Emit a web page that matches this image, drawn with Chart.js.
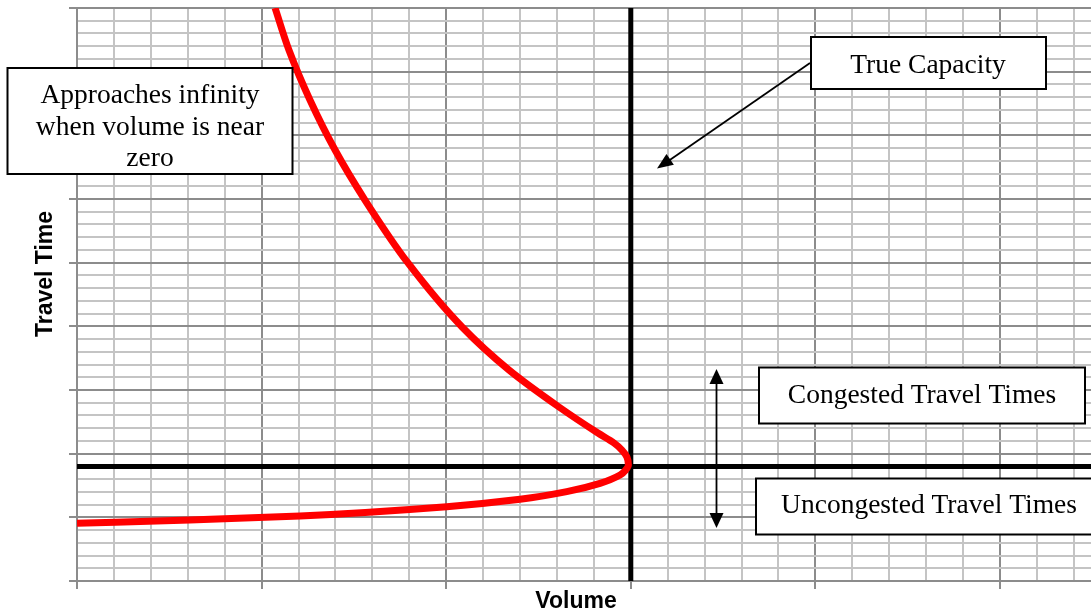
<!DOCTYPE html>
<html>
<head>
<meta charset="utf-8">
<script src="https://cdn.jsdelivr.net/npm/chart.js@4"></script>
<style>
  html, body { margin: 0; padding: 0; background: #fff; }
  #wrap { width: 1091px; height: 613px; position: relative; }
</style>
</head>
<body>
<div id="wrap"><canvas id="vdfChart"></canvas></div>
<script>
// travel time curve: top of the plot, down to the capacity tip, then the lower branch
// (travel time falls all the way along, so volume is a function of travel time)
const curveX = [1.073, 1.148, 1.262, 1.398, 1.560, 1.793, 2.086, 2.340, 2.611, 2.822, 2.909, 2.952, 2.979, 2.987, 2.972, 2.942, 2.833, 2.653, 2.400, 2.003, 1.208, 0.612, 0];
const curveY = [9.0, 8.34, 7.555, 6.769, 5.984, 4.995, 3.989, 3.314, 2.733, 2.324, 2.167, 2.057, 1.948, 1.822, 1.743, 1.665, 1.534, 1.403, 1.283, 1.167, 1.021, 0.958, 0.906];

const capacityX = 3;      // true capacity (vertical line)
const splitY = 1.8;       // congested / uncongested split (horizontal line)
const xMin = 0, xMax = 5.493;
const yMin = 0, yMax = 9;

const isMajor = v => Math.abs(v - Math.round(v)) < 1e-6;
const gridColor = c => (c.tick && isMajor(c.tick.value)) ? '#8c8c8c' : '#c4c4c4';
const tickColor = c => (c.tick && isMajor(c.tick.value)) ? '#8c8c8c' : 'rgba(0,0,0,0)';

function arrowHead(c, x1, y1, x2, y2, len, half) {
  const a = Math.atan2(y2 - y1, x2 - x1);
  c.beginPath();
  c.moveTo(x2, y2);
  c.lineTo(x2 - len * Math.cos(a) + half * Math.sin(a), y2 - len * Math.sin(a) - half * Math.cos(a));
  c.lineTo(x2 - len * Math.cos(a) - half * Math.sin(a), y2 - len * Math.sin(a) + half * Math.cos(a));
  c.closePath();
  c.fill();
}

const notes = {
  id: 'notes',
  afterDatasetsDraw(chart) {
    const c = chart.ctx;
    c.save();
    c.fillStyle = '#000';
    c.strokeStyle = '#000';

    // axis titles
    c.font = 'bold 23px "Liberation Sans", Arial, sans-serif';
    c.textAlign = 'center';
    c.textBaseline = 'alphabetic';
    c.fillText('Volume', 576, 608);
    c.save();
    c.translate(52, 274);
    c.rotate(-Math.PI / 2);
    c.fillText('Travel Time', 0, 0);
    c.restore();

    // arrows
    c.lineWidth = 1.8;
    c.beginPath();
    c.moveTo(810, 63);
    c.lineTo(664, 164);
    c.stroke();
    arrowHead(c, 810, 63, 657, 168.5, 16, 6.5);

    c.beginPath();
    c.moveTo(716.5, 380);
    c.lineTo(716.5, 517);
    c.stroke();
    arrowHead(c, 716.5, 420, 716.5, 369, 15, 7);
    arrowHead(c, 716.5, 480, 716.5, 528, 15, 7);

    // text boxes
    const boxes = [
      { x: 7.5, y: 68, w: 285, h: 106, cx: 150, lines: ['Approaches infinity', 'when volume is near', 'zero'], base: [103, 135, 166] },
      { x: 811, y: 37, w: 235, h: 52, cx: 928, lines: ['True Capacity'], base: [73] },
      { x: 759, y: 367.5, w: 326, h: 56, cx: 922, lines: ['Congested Travel Times'], base: [403] },
      { x: 756, y: 478.5, w: 345, h: 56, cx: 929, lines: ['Uncongested Travel Times'], base: [513] }
    ];
    c.font = '27.5px "Liberation Serif", "Times New Roman", serif';
    c.lineWidth = 2;
    boxes.forEach(b => {
      c.fillStyle = '#fff';
      c.fillRect(b.x, b.y, b.w, b.h);
      c.strokeRect(b.x, b.y, b.w, b.h);
      c.fillStyle = '#000';
      b.lines.forEach((t, i) => c.fillText(t, b.cx, b.base[i]));
    });
    c.restore();
  }
};

new Chart(document.getElementById('vdfChart'), {
  type: 'line',
  data: {
    datasets: [
      {
        label: 'Travel time',
        data: curveX.map((x, i) => ({ x: x, y: curveY[i] })),
        borderColor: '#ff0000',
        borderWidth: 7,
        pointRadius: 0,
        cubicInterpolationMode: 'monotone',
        clip: 0
      },
      {
        label: 'True capacity',
        data: [{ x: capacityX, y: yMin }, { x: capacityX, y: yMax }],
        borderColor: '#000',
        borderWidth: 5,
        borderCapStyle: 'round',
        pointRadius: 0
      },
      {
        label: 'Split',
        data: [{ x: xMin, y: splitY }, { x: xMax, y: splitY }],
        borderColor: '#000',
        borderWidth: 5,
        pointRadius: 0
      }
    ]
  },
  options: {
    indexAxis: 'y',
    responsive: true,
    maintainAspectRatio: false,
    animation: false,
    layout: { padding: { top: 8, right: 0, bottom: 0, left: 0 } },
    plugins: {
      legend: { display: false },
      tooltip: { enabled: false }
    },
    scales: {
      x: {
        type: 'linear',
        min: xMin,
        max: xMax,
        ticks: { display: false, stepSize: 0.2, includeBounds: false },
        grid: { color: gridColor, tickColor: tickColor, lineWidth: 2, tickLength: 8 },
        border: { color: '#8c8c8c', width: 2 },
        afterFit: s => { s.height = 32; }
      },
      y: {
        type: 'linear',
        min: yMin,
        max: yMax,
        ticks: { display: false, stepSize: 0.2 },
        grid: { color: gridColor, tickColor: tickColor, lineWidth: 2, tickLength: 8 },
        border: { color: '#8c8c8c', width: 2 },
        afterFit: s => { s.width = 77; }
      }
    }
  },
  plugins: [notes]
});
</script>
</body>
</html>
